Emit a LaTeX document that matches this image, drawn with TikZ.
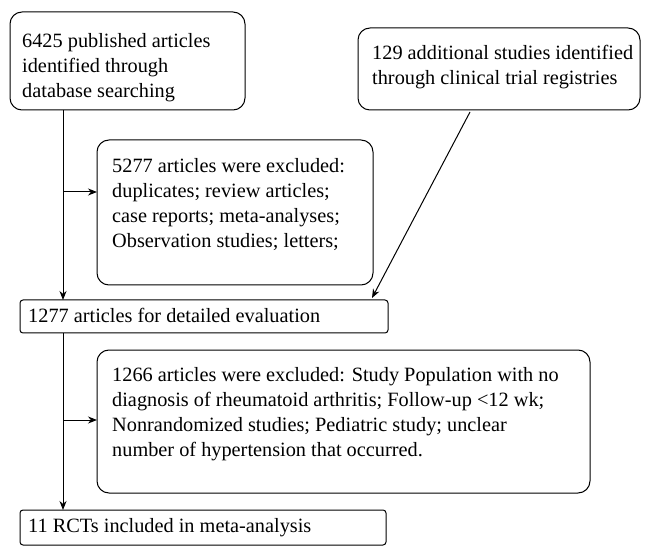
\documentclass[tikz,border=0pt]{standalone}
\usepackage{fontspec}
\setmainfont{Liberation Serif}
\usetikzlibrary{arrows.meta}
\begin{document}
\begin{tikzpicture}[x=1pt,y=-1pt,
  rbox/.style={draw,line width=1pt,rounded corners=12pt},
  sbox/.style={draw,line width=1pt,rounded corners=3pt},
  txt/.style={anchor=north west,align=left,font=\fontsize{20.3}{25}\selectfont,inner sep=0pt},
  arr/.style={-{Stealth[length=9pt,width=7pt]},line width=1pt}]
\useasboundingbox (0,0) rectangle (664,553);
\draw[rbox] (10,12) rectangle (245,110); \coordinate (b1) at (63,110);
\node[txt] (t1) at (22,33) {6425 published articles\\identified through\\database searching};
\draw[rbox] (358,28) rectangle (640,110); \coordinate (b2) at (470,112);
\node[txt] (t2) at (372,45) {129 additional studies identified\\through clinical trial registries};
\draw[rbox] (97,140) rectangle (373,285); \coordinate (b3) at (97,192);
\node[txt] (t3) at (112,158) {5277 articles were excluded:\\duplicates; review articles;\\case reports; meta-analyses;\\Observation studies; letters;};
\draw[sbox] (20,300) rectangle (388,333); \coordinate (b4t) at (63,300); \coordinate (b4d) at (372,298); \coordinate (b4b) at (63,333);
\node[txt] (t4) at (28,308) {1277 articles for detailed evaluation};
\draw[rbox] (97,350) rectangle (590,493); \coordinate (b5) at (97,420);
\node[txt] (t5) at (112,367) {1266 articles were excluded: Study Population with no\\diagnosis of rheumatoid arthritis; Follow-up <12 wk;\\Nonrandomized studies; Pediatric study; unclear\\number of hypertension that occurred.};
\draw[sbox] (20,510) rectangle (386,545); \coordinate (b6) at (63,510);
\node[txt] (t6) at (28,518) {11 RCTs included in meta-analysis};
\draw[arr] (b1) -- (b4t);
\draw[arr] (63,192) -- (b3);
\draw[arr] (b2) -- (b4d);
\draw[arr] (b4b) -- (b6);
\draw[arr] (63,420) -- (b5);
\end{tikzpicture}
\end{document}
